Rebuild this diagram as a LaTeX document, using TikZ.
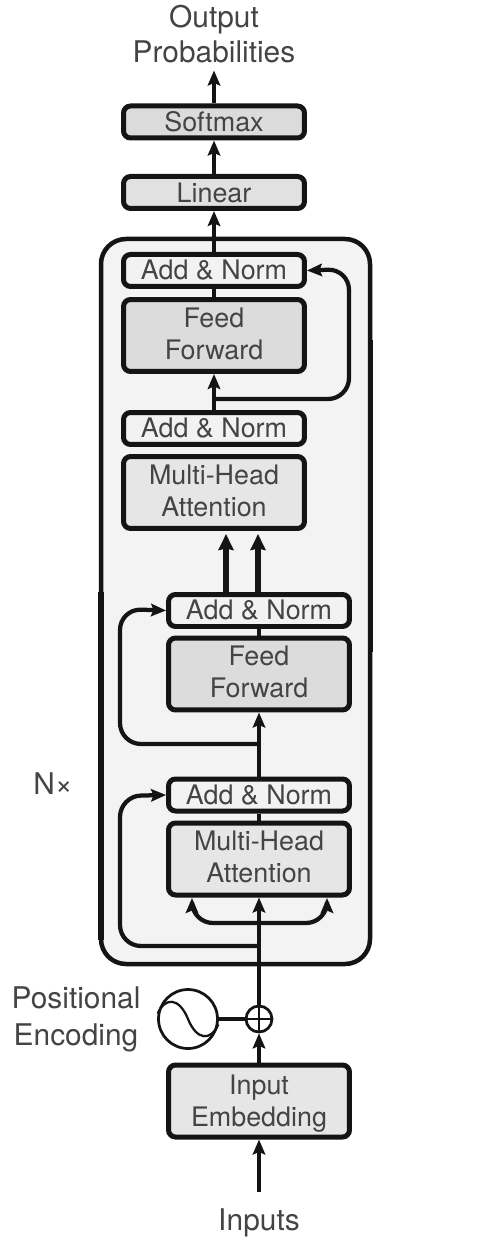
\documentclass[tikz,border=0pt]{standalone}
\usepackage{fontspec}
\setmainfont{TeX Gyre Heros}
\usepackage{tikz}
\usetikzlibrary{arrows.meta,calc}
\definecolor{framebg}{HTML}{F3F3F3}
\definecolor{normbg}{HTML}{F2F2F2}
\definecolor{attbg}{HTML}{E6E6E6}
\definecolor{ffbg}{HTML}{DCDCDC}
\definecolor{linbg}{HTML}{E1E1E1}
\definecolor{softbg}{HTML}{DBDBDB}
\definecolor{inkline}{HTML}{141414}
\definecolor{inktext}{HTML}{444444}
\tikzset{
  tfbox/.style={draw=inkline, rounded corners=0.14cm, line width=0.1cm, align=center, inner sep=0pt, text=inktext,
    minimum width=3.62cm, font=\fontsize{15.3}{18.2}\selectfont},
  shortbox/.style={tfbox, minimum height=0.64cm},
  tallbox/.style={tfbox, minimum height=1.44cm, text depth=0.08cm},
  tflabel/.style={align=center, inner sep=0pt, text=inktext, font=\fontsize{17}{20.4}\selectfont},
  tfarrow/.style={-{Stealth[length=0.3cm,width=0.25cm,inset=0.05cm]}, line width=0.085cm, draw=inkline},
  tfbold/.style={-{Stealth[length=0.32cm,width=0.3cm,inset=0.03cm]}, line width=0.105cm, draw=inkline},
  tfline/.style={line width=0.09cm, draw=inkline},
  tfloop/.style={tfarrow, rounded corners=0.42cm},
  tfframe/.style={draw=inkline, fill=framebg, rounded corners=0.5cm, line width=0.09cm}
}
\begin{document}
\begin{tikzpicture}[x=0.02cm,y=-0.02cm]
  \useasboundingbox (0,0) rectangle (478,1239);

  % repeated block
  \draw[tfframe] (101,239) rectangle (370,964);
  \fill[inkline] (98,592) rectangle (104,940);
  \fill[inkline] (367.5,340) rectangle (373,652);

  % top of the stack
  \node[tflabel] (outlabel) at (214,34) {Output\\Probabilities};
  \node[shortbox, fill=softbg] (softmax) at (214,122) {Softmax};
  \node[shortbox, fill=linbg] (linear) at (214,192.5) {Linear};

  % upper layer
  \node[shortbox, fill=normbg] (normd) at (214,270.5) {Add \& Norm};
  \node[tallbox, fill=ffbg] (ffupper) at (214,335.5) {Feed\\Forward};
  \node[shortbox, fill=normbg] (normc) at (214,428.5) {Add \& Norm};
  \node[tallbox, fill=attbg] (attupper) at (214,492.5) {Multi-Head\\Attention};

  % lower layer
  \node[shortbox, fill=normbg] (normb) at (259,610.5) {Add \& Norm};
  \node[tallbox, fill=ffbg] (fflower) at (259,674) {Feed\\Forward};
  \node[shortbox, fill=normbg] (norma) at (259,795) {Add \& Norm};
  \node[tallbox, fill=attbg] (attlower) at (259,859) {Multi-Head\\Attention};

  % input side
  \node[tfbox, minimum height=1.44cm, fill=attbg, text depth=0pt] (embed) at (259,1101) {Input\\Embedding};
  \node[circle, draw=inkline, line width=0.055cm, minimum size=0.52cm, inner sep=0pt] (plus) at (259,1019) {};
  \draw[line width=0.04cm, draw=inkline] (plus.north) -- (plus.south) (plus.west) -- (plus.east);
  \node[circle, draw=inkline, line width=0.055cm, minimum size=1.18cm, inner sep=0pt] (wave) at (188,1019) {};
  \draw[line width=0.045cm, draw=inkline] (wave.170) .. controls (165,997) and (179,997) .. (188,1019)
    .. controls (197,1041) and (211,1041) .. (wave.-10);
  \node[tflabel, font=\fontsize{17}{21}\selectfont] (poslabel) at (76,1019) {Positional\\Encoding};
  \node[tflabel] (inlabel) at (259,1223) {Inputs};
  \node[tflabel] (nxlabel) at (53,784) {N\texttimes};
  \coordinate (instart) at (259,1192);

  % branch points
  \coordinate (branchd) at (214,399);
  \coordinate (branchb) at (259,744);
  \coordinate (brancha) at (259,946);
  \coordinate (branchc) at (259,923);
  \coordinate (lefttip) at (192,898);
  \coordinate (righttip) at (327,898);

  % main flow
  \draw[tfarrow] (softmax.north) -- ++(0,-33);
  \draw[tfarrow] (linear.north) -- (softmax.south);
  \draw[tfarrow] (normd.north) -- (linear.south);
  \draw[tfline] (ffupper.north) -- (normd.south);
  \draw[tfarrow] (normc.north) -- (ffupper.south);
  \draw[tfline] (fflower.north) -- (normb.south);
  \draw[tfarrow] (norma.north) -- (fflower.south);
  \draw[tfline] (attlower.north) -- (norma.south);
  \draw[tfarrow] (plus.north) -- (attlower.south);
  \draw[tfarrow] (embed.north) -- (plus.south);
  \draw[tfarrow] (instart) -- (embed.south);
  \draw[tfline] (wave.east) -- (plus.west);

  % lower to upper block
  \draw[tfbold] ($(normb.north)+(-33,0)$) -- ($(attupper.south)+(12,3)$);
  \draw[tfbold] ($(normb.north)+(-1,0)$) -- ($(attupper.south)+(44,3)$);

  % residual loops
  \draw[tfloop] (branchd) -- (349,399) -- (349,269) -- (normd.east);
  \draw[tfloop] (branchb) -- (120,744) -- (120,609) -- (normb.west);
  \draw[tfloop] (brancha) -- (120,946) -- (120,796) -- (norma.west);

  % attention inputs
  \draw[tfloop] (branchc) -- (192,923) -- (lefttip);
  \draw[tfloop] (branchc) -- (327,923) -- (righttip);

\end{tikzpicture}
\end{document}
